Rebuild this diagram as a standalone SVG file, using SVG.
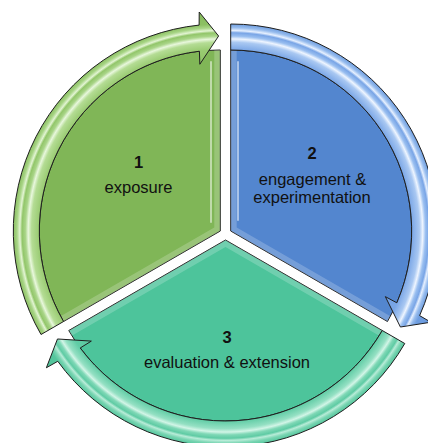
<svg xmlns="http://www.w3.org/2000/svg" width="428" height="443" viewBox="0 0 428 443">
  <style>
    .sector { stroke: #1e1e1e; stroke-width: 1; }
    .arrow { stroke: #1e1e1e; stroke-width: 1; stroke-linejoin: miter; }
    .bevel { fill: none; stroke: #ffffff; stroke-opacity: 0.2; stroke-width: 12; }
    .hl { fill: none; stroke: #ffffff; stroke-linecap: round; }
    .num { font-family: "Liberation Sans", Arial, sans-serif; font-size: 16.5px; font-weight: bold; fill: #111; text-anchor: middle; }
    .lbl { font-family: "Liberation Sans", Arial, sans-serif; font-size: 16.5px; fill: #111; text-anchor: middle; }
  </style>
  <defs>
    <radialGradient id="gArrow" gradientUnits="userSpaceOnUse" cx="220.3" cy="231" r="222">
      <stop offset="0.74" stop-color="#8fc466"/>
      <stop offset="0.815" stop-color="#98ca70"/>
      <stop offset="0.85" stop-color="#b4dc94"/>
      <stop offset="0.865" stop-color="#e8f7dc"/>
      <stop offset="0.878" stop-color="#a9d588"/>
      <stop offset="0.893" stop-color="#92c66a"/>
      <stop offset="0.903" stop-color="#e2f4d2"/>
      <stop offset="0.916" stop-color="#a8d586"/>
      <stop offset="0.932" stop-color="#8cc063"/>
      <stop offset="1" stop-color="#86bb5c"/>
    </radialGradient>
    <radialGradient id="bArrow" gradientUnits="userSpaceOnUse" cx="230.7" cy="231" r="222">
      <stop offset="0.74" stop-color="#6f9ee2"/>
      <stop offset="0.815" stop-color="#7aa6e6"/>
      <stop offset="0.85" stop-color="#a9c8f2"/>
      <stop offset="0.865" stop-color="#eef5ff"/>
      <stop offset="0.878" stop-color="#9abff0"/>
      <stop offset="0.893" stop-color="#79a5e6"/>
      <stop offset="0.903" stop-color="#e6f0ff"/>
      <stop offset="0.916" stop-color="#98bdee"/>
      <stop offset="0.932" stop-color="#6f9ee0"/>
      <stop offset="1" stop-color="#6898dd"/>
    </radialGradient>
    <radialGradient id="tArrow" gradientUnits="userSpaceOnUse" cx="225.5" cy="240" r="222">
      <stop offset="0.74" stop-color="#58c9a0"/>
      <stop offset="0.815" stop-color="#60cca5"/>
      <stop offset="0.85" stop-color="#94e0c3"/>
      <stop offset="0.865" stop-color="#d2f5e7"/>
      <stop offset="0.878" stop-color="#7fd8b6"/>
      <stop offset="0.893" stop-color="#5fcba4"/>
      <stop offset="0.903" stop-color="#b8ecd8"/>
      <stop offset="0.916" stop-color="#79d5b2"/>
      <stop offset="0.932" stop-color="#55c69d"/>
      <stop offset="1" stop-color="#50c298"/>
    </radialGradient>
    <clipPath id="cG"><path d="M 220.3 231 L 63.55 321.5 A 181 181 0 0 1 220.3 50 Z"/></clipPath>
    <clipPath id="cB"><path d="M 230.7 231 L 230.7 50 A 181 181 0 0 1 387.45 321.5 Z"/></clipPath>
    <clipPath id="cT"><path d="M 225.5 240 L 382.25 330.5 A 181 181 0 0 1 68.75 330.5 Z"/></clipPath>
  </defs>

  <g id="node-1">
    <path class="sector" fill="#80b657" d="M 220.3 231 L 63.55 321.5 A 181 181 0 0 1 220.3 50 Z"/>
    <path class="bevel" clip-path="url(#cG)" d="M 63.55 321.5 L 220.3 231 L 220.3 50"/>
    <line class="hl" x1="211" y1="62" x2="211" y2="222" stroke-width="2" stroke-opacity="0.5"/>
    <text class="num" x="138.5" y="168">1</text>
    <text class="lbl" x="138.5" y="193">exposure</text>
  </g>

  <g id="node-2">
    <path class="sector" fill="#5386cf" d="M 230.7 231 L 230.7 50 A 181 181 0 0 1 387.45 321.5 Z"/>
    <path class="bevel" clip-path="url(#cB)" d="M 230.7 50 L 230.7 231 L 387.45 321.5"/>
    <line class="hl" x1="238" y1="62" x2="238" y2="220" stroke-width="2" stroke-opacity="0.5"/>
    <text class="num" x="312" y="159">2</text>
    <text class="lbl" x="312.5" y="185">engagement &amp;</text>
    <text class="lbl" x="312" y="203">experimentation</text>
  </g>

  <g id="node-3">
    <path class="sector" fill="#4dc49b" d="M 225.5 240 L 382.25 330.5 A 181 181 0 0 1 68.75 330.5 Z"/>
    <path class="bevel" clip-path="url(#cT)" d="M 68.75 330.5 L 225.5 240 L 382.25 330.5"/>
    <text class="num" x="227" y="343">3</text>
    <text class="lbl" x="227" y="368">evaluation &amp; extension</text>
  </g>

  <g id="connectors">
    <path id="arrow-1-2" class="arrow" fill="url(#gArrow)" d="M 41.03 334.5 A 207 207 0 0 1 199.11 25.09 L 199.21 12.01 L 218.6 36 L 199.83 64.25 L 199.42 51.21 A 181 181 0 0 0 63.55 321.5 Z"/>
    <path id="arrow-2-3" class="arrow" fill="url(#bArrow)" d="M 230.7 24 A 207 207 0 0 1 419.62 315.61 L 430.89 322.23 L 400.42 327.02 L 385.34 296.64 L 396.84 302.81 A 181 181 0 0 0 230.7 50 Z"/>
    <path id="arrow-3-1" class="arrow" fill="url(#tArrow)" d="M 404.77 343.5 A 207 207 0 0 1 57.77 361.31 L 46.39 367.75 L 57.48 338.97 L 91.33 341.1 L 80.23 347.97 A 181 181 0 0 0 382.25 330.5 Z"/>
  </g>
</svg>
